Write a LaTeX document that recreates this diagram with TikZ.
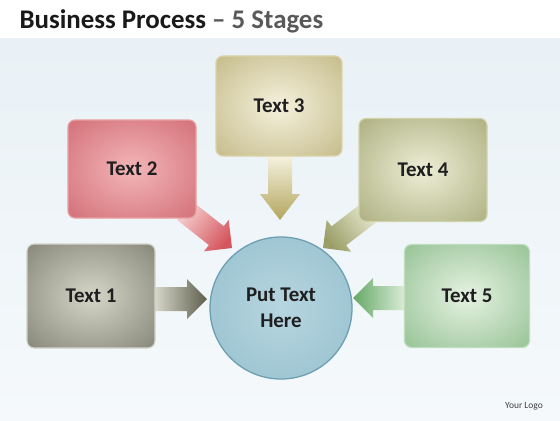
\documentclass[tikz,border=0pt]{standalone}
\usepackage{fontspec}
\setmainfont{Carlito}
\usepackage{xcolor}
\usetikzlibrary{calc}

\definecolor{bgtop}{HTML}{E9F1F6}
\definecolor{bgbot}{HTML}{F5F9FB}
\definecolor{titlegray}{HTML}{595959}
% box colours: centre, edge, rim
\definecolor{oneIn}{HTML}{D6D6C8}\definecolor{oneOut}{HTML}{66665A}\definecolor{oneRim}{HTML}{D4D4CC}
\definecolor{twoIn}{HTML}{F3B6B8}\definecolor{twoOut}{HTML}{C6545E}\definecolor{twoRim}{HTML}{E8A0A4}
\definecolor{threeIn}{HTML}{F5F1DC}\definecolor{threeOut}{HTML}{B2A66A}\definecolor{threeRim}{HTML}{DCD4A8}
\definecolor{fourIn}{HTML}{EDEED6}\definecolor{fourOut}{HTML}{94975F}\definecolor{fourRim}{HTML}{D0D2AA}
\definecolor{fiveIn}{HTML}{E6F2E2}\definecolor{fiveOut}{HTML}{76B076}\definecolor{fiveRim}{HTML}{BEDEBE}
\definecolor{hubIn}{HTML}{B6D6E0}\definecolor{hubOut}{HTML}{8AB7C7}\definecolor{hubRim}{HTML}{6D9FB2}
\colorlet{vin}{white}
\colorlet{vout}{gray}
\pgfdeclareradialshading[vin,vout]{vignette}{\pgfpoint{0bp}{0bp}}{color(0bp)=(vin); color(50bp)=(vout)}
\pgfdeclarelayer{backdrop}
\pgfdeclarelayer{arrows}
\pgfsetlayers{backdrop,arrows,main}

\newcommand{\blockarrow}[5]{%
  \path let \p1=(#1), \p2=(#2) in \pgfextra{%
    \pgfmathsetmacro\tmpang{atan2(\y2-\y1,\x2-\x1)}%
    \pgfmathsetmacro\tmplen{veclen(\x2-\x1,\y2-\y1)}%
    \xdef\arrang{\tmpang}\xdef\arrlen{\tmplen}};
  \pgfmathsetmacro\arrshade{\arrang+90}%
  \shade[top color=#4, bottom color=#5, shading angle=\arrshade]
    ($(#2)+(\arrang+180:\arrlen pt)+(\arrang+90:12)$)
    -- ($(#2)+(\arrang+180:#3)+(\arrang+90:12)$)
    -- ($(#2)+(\arrang+180:#3)+(\arrang+90:20)$)
    -- (#2)
    -- ($(#2)+(\arrang+180:#3)+(\arrang-90:20)$)
    -- ($(#2)+(\arrang+180:#3)+(\arrang-90:12)$)
    -- ($(#2)+(\arrang+180:\arrlen pt)+(\arrang-90:12)$) -- cycle;}

\begin{document}
\begin{tikzpicture}[x=1bp,y=1bp,
    vin/.code={\colorlet{vin}{#1}},
    vout/.code={\colorlet{vout}{#1}},
    box/.style={rectangle, rounded corners=7bp, line width=1.2bp, shading=vignette,
      font=\bfseries\fontsize{21}{24}\selectfont, text=black!88},
    hub/.style={circle, line width=1.3bp, shading=vignette, align=center,
      font=\bfseries\fontsize{21}{26}\selectfont, text=black!88}]
		\useasboundingbox (0,0) rectangle (560,420);
		\begin{pgfonlayer}{backdrop}
		\fill[white] (0,0) rectangle (560,420);
		\shade[top color=bgtop, middle color=white, bottom color=bgbot] (0,0) rectangle (560,382);
		\end{pgfonlayer}
		%
		\node[anchor=base west, font=\bfseries\fontsize{27}{30}\selectfont, text=black!90] (title) at (16,391)
		  {Business Process \textcolor{titlegray}{– 5 Stages}};
		\node[font=\fontsize{9.5}{10}\selectfont, text=black!75] (logo) at (524,14) {Your Logo};
		%
		\node[box, minimum width=128bp, minimum height=104bp, vin=oneIn, vout=oneOut, draw=oneRim] (b1) at (91,124) {Text 1};
		\node[box, minimum width=128bp, minimum height=98bp, vin=twoIn, vout=twoOut, draw=twoRim] (b2) at (132,251) {Text 2};
		\node[box, minimum width=126bp, minimum height=100bp, vin=threeIn, vout=threeOut, draw=threeRim] (b3) at (279,314) {Text 3};
		\node[box, minimum width=128bp, minimum height=103bp, vin=fourIn, vout=fourOut, draw=fourRim] (b4) at (423,250) {Text 4};
		\node[box, minimum width=125bp, minimum height=103bp, vin=fiveIn, vout=fiveOut, draw=fiveRim] (b5) at (467,124) {Text 5};
		\node[hub, minimum size=142bp, vin=hubIn, vout=hubOut, draw=hubRim] (c) at (281,112) {Put Text\\Here};
		%
		\coordinate (t1) at (207,121);
		\coordinate (t2) at (232,172);
		\coordinate (t3) at (280,200);
		\coordinate (t4) at (323,172);
		\coordinate (t5) at (353,122);
		\coordinate (s1) at (b1.east |- t1);
		\coordinate (s2) at ($(b2.south east)+(-12,8)$);
		\coordinate (s3) at (t3 |- b3.south);
		\coordinate (s4) at ($(b4.south west)+(10,9)$);
		\coordinate (s5) at (b5.west |- t5);
		%
		\begin{pgfonlayer}{arrows}
		\blockarrow{s1}{t1}{20}{{rgb,255:red,213;green,213;blue,200}}{{rgb,255:red,94;green,94;blue,76}}
		\blockarrow{s2}{t2}{20}{{rgb,255:red,246;green,208;blue,208}}{{rgb,255:red,213;green,86;blue,94}}
		\blockarrow{s3}{t3}{26}{{rgb,255:red,245;green,241;blue,222}}{{rgb,255:red,178;green,166;blue,94}}
		\blockarrow{s4}{t4}{20}{{rgb,255:red,228;green,230;blue,204}}{{rgb,255:red,154;green,158;blue,102}}
		\blockarrow{s5}{t5}{20}{{rgb,255:red,216;green,235;blue,214}}{{rgb,255:red,102;green,168;blue,102}}
		\end{pgfonlayer}
\end{tikzpicture}
\end{document}
